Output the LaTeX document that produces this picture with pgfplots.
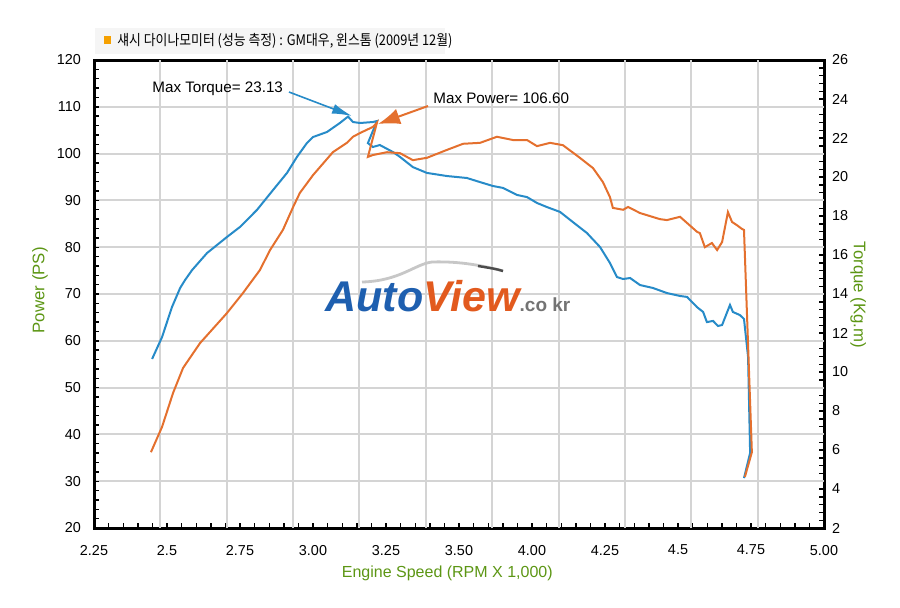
\documentclass[border=0pt]{standalone}
\usepackage{pgfplots}
\pgfplotsset{compat=1.18}
\usepackage{fontspec}
\setmainfont{Liberation Sans}
\newfontfamily\cjk[FakeStretch=0.88]{Noto Sans CJK KR}
\usetikzlibrary{arrows.meta}
\definecolor{tq}{RGB}{39,139,200}
\definecolor{pw}{RGB}{228,112,46}
\definecolor{lab}{RGB}{92,150,20}
\definecolor{gridc}{RGB}{212,212,212}
\definecolor{tit}{RGB}{245,160,0}
\definecolor{logob}{RGB}{30,95,175}
\definecolor{logoo}{RGB}{226,90,30}
\begin{document}
\begin{tikzpicture}
\path[use as bounding box] (0,0) rectangle (450pt,-303.5pt);
% ---------- torque axis (right), grid ----------
\begin{axis}[
  at={(47pt,-264pt)}, anchor=south west, scale only axis,
  width=365pt, height=234pt,
  xmin=2.25, xmax=4.75, ymin=2, ymax=26,
  xtick={2.25,2.5,2.75,3.0,3.25,3.5,3.75,4.0,4.25,4.5,4.75},
  xticklabels={2.25,2.5,2.75,3.00,3.25,3.50,4.00,4.25,4.5,4.75,5.00},
  minor x tick num=4,
  ytick={2,4,6,8,10,12,14,16,18,20,22,24,26},
  minor y tick num=4,
  xtick pos=bottom, ytick pos=right, yticklabel pos=right,
  tick align=inside,
  major tick length=2.5pt, minor tick length=2.5pt,
  tick style={black, line width=0.7pt},
  axis line style={line width=1.5pt},
  extra x ticks={2.4773,2.7045,2.9318,3.1591,3.3864,3.6136,3.8409,4.0682,4.2955,4.5227},
  extra x tick labels={},
  extra y ticks={4.4,6.8,9.2,11.6,14,16.4,18.8,21.2,23.6},
  extra y tick labels={},
  extra tick style={grid=major, major tick length=0pt},
  grid style={draw=gridc, line width=1pt},
  tick label style={font=\fontsize{7.2}{8}\selectfont},
  xticklabel style={yshift=-5pt},
  yticklabel style={xshift=0.5pt},
  /pgf/number format/assume math mode=true,
  ylabel={Torque (Kg.m)},
  ylabel style={at={(axis description cs:1.047,0.498)}, anchor=center, rotate=180,
    font=\fontsize{8.4}{9}\selectfont, text=lab},
  xlabel={Engine Speed (RPM X 1,000)},
  xlabel style={at={(axis description cs:0.484,-0.096)}, anchor=center,
    font=\fontsize{8}{9}\selectfont, text=lab},
]
\addplot[tq, line width=1pt] coordinates {
(2.449,10.67) (2.483,11.79) (2.517,13.33) (2.545,14.31) (2.562,14.72)
(2.586,15.23) (2.637,16.10) (2.705,16.92) (2.750,17.44) (2.808,18.31)
(2.863,19.33) (2.911,20.21) (2.945,21.03) (2.979,21.74) (3.000,22.05)
(3.048,22.31) (3.092,22.77) (3.120,23.10) (3.137,22.82) (3.161,22.77)
(3.205,22.82) (3.219,22.87) (3.188,21.74) (3.205,21.54) (3.229,21.64)
(3.274,21.28) (3.298,21.03) (3.342,20.51) (3.390,20.21) (3.459,20.05)
(3.527,19.95) (3.572,19.74) (3.616,19.54) (3.651,19.44) (3.699,19.08)
(3.733,18.97) (3.767,18.67) (3.801,18.46) (3.846,18.21) (3.890,17.69)
(3.938,17.13) (3.983,16.41) (4.017,15.59) (4.041,14.87) (4.062,14.77)
(4.086,14.82) (4.120,14.46) (4.164,14.31) (4.212,14.05) (4.257,13.90)
(4.281,13.85) (4.315,13.33) (4.336,13.08) (4.349,12.56) (4.370,12.62)
(4.387,12.36) (4.401,12.41) (4.428,13.44) (4.438,13.08) (4.462,12.92)
(4.476,12.72) (4.490,10.77) (4.497,5.85) (4.476,4.56)
};
\end{axis}
% ---------- power axis (left) ----------
\begin{axis}[
  at={(47pt,-264pt)}, anchor=south west, scale only axis,
  width=365pt, height=234pt,
  xmin=2.25, xmax=4.75, ymin=20, ymax=120,
  axis y line*=left, axis x line=none,
  ytick={20,30,40,50,60,70,80,90,100,110,120},
  minor y tick num=4,
  tick align=inside,
  major tick length=2.5pt, minor tick length=2.5pt,
  tick style={black, line width=0.7pt},
  axis line style={line width=1.5pt},
  tick label style={font=\fontsize{7.2}{8}\selectfont},
  yticklabel style={xshift=-3pt},
  /pgf/number format/assume math mode=true,
  ylabel={Power (PS)},
  ylabel style={at={(axis description cs:-0.074,0.508)}, anchor=center,
    font=\fontsize{8.4}{9}\selectfont, text=lab},
]
\addplot[pw, line width=1pt] coordinates {
(2.445,36.2) (2.483,41.6) (2.521,48.9) (2.555,54.2) (2.613,59.5)
(2.705,65.9) (2.760,70.2) (2.818,75.1) (2.853,79.4) (2.897,83.7)
(2.932,88.6) (2.955,91.6) (3.000,95.4) (3.068,100.3) (3.116,102.3)
(3.137,103.6) (3.161,104.4) (3.205,105.7) (3.219,106.6) (3.188,99.3)
(3.205,99.7) (3.253,100.3) (3.298,100.1) (3.342,98.6) (3.390,99.1)
(3.459,100.8) (3.514,102.1) (3.572,102.3) (3.630,103.6) (3.685,102.9)
(3.733,102.9) (3.767,101.6) (3.812,102.3) (3.856,101.8) (3.914,99.1)
(3.959,96.9) (3.993,93.9) (4.017,90.7) (4.027,88.4) (4.062,88.0)
(4.079,88.6) (4.120,87.3) (4.188,86.0) (4.212,85.8) (4.257,86.5)
(4.315,83.3) (4.325,83.0) (4.342,80.0) (4.366,80.9) (4.384,79.4)
(4.401,81.1) (4.421,87.5) (4.435,85.4) (4.452,84.7) (4.469,83.9)
(4.476,83.7) (4.503,36.2) (4.479,30.9)
};
\end{axis}
% ---------- decorations in pixel units ----------
\begin{scope}[x=0.5pt, y=-0.5pt]
  % title
  \fill[black!4] (95,28) rectangle (445,54);
  \fill[tit] (104,36) rectangle (111,44);
  \node[anchor=west, inner sep=0, font=\cjk\fontsize{7.3}{8}\selectfont] at (117,41)
    {섀시 다이나모미터 (성능 측정) : GM대우, 윈스톰 (2009년 12월)};
  % logo
  \draw[line width=1.4pt, black!22] (362,282) .. controls (400,281) and (415,264) .. (432,262)
        .. controls (460,261) and (485,266) .. (503,271);
  \draw[line width=1.2pt, black!70] (478,266) .. controls (490,268) and (497,269) .. (503,271);
  \node[anchor=base west, inner sep=0] at (325,311)
    {\fontsize{21.5}{22}\selectfont\bfseries\itshape\color{logob}Auto\color{logoo}View%
     \upshape\fontsize{9.5}{10}\selectfont\color{black!55}.co kr};
  % annotations
  \node[anchor=west, inner sep=0, font=\fontsize{7.6}{8}\selectfont] at (152,89) {Max Torque= 23.13};
  \draw[tq, line width=0.8pt, -{Latex[length=10pt,width=5pt]}] (289,92) -- (352,116);
  \node[anchor=west, inner sep=0, font=\fontsize{7.6}{8}\selectfont] at (433,98) {Max Power= 106.60};
  \draw[pw, line width=1pt, -{Latex[length=11pt,width=8pt]}] (428,106) -- (378,124);
\end{scope}
\end{tikzpicture}
\end{document}
